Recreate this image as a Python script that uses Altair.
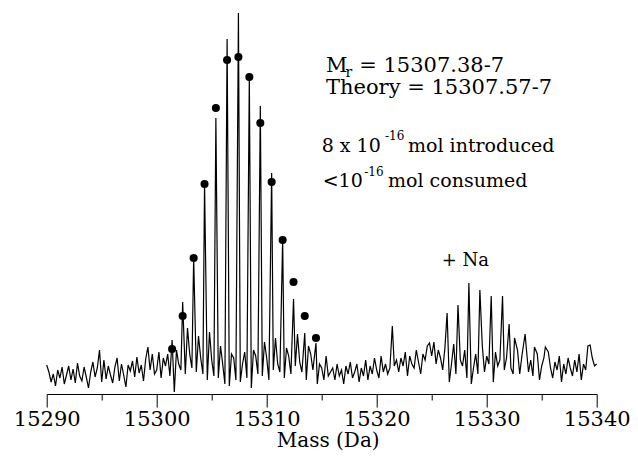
import altair as alt
import pandas as pd

# ---------------- data ----------------
mass_start = 15290.0
mass_step = 0.2
# baseline / noise trace, one value per 0.2 Da (15290.0 .. 15340.0)
baseline = [
    29, 22, 12, 20, 8, 24, 16, 27, 10, 19,
    28, 14, 25, 11, 31, 18, 13, 27, 17, 6,
    22, 32, 17, 26, 44, 12, 34, 15, 28, 19,
    11, 27, 36, 13, 30, 19, 7, 29, 23, 33,
    17, 37, 21, 29, 13, 35, 47, 24, 40, 20,
    24, 42, 16, 36, 28, 40, 18, 20, 2, 44,
    30, 24, 20, 20, 66, 40, 26, 20, 22, 58,
    36, 20, 20, 14, 62, 34, 18, 20, 16, 48,
    30, 10, 20, 8, 40, 36, 14, 20, 12, 30,
    42, 16, 20, 6, 44, 38, 20, 20, 18, 52,
    36, 14, 20, 24, 56, 30, 22, 20, 16, 46,
    38, 20, 20, 28, 60, 32, 22, 20, 14, 48,
    40, 24, 20, 10, 30, 26, 14, 38, 18, 22,
    26, 14, 30, 18, 24, 10, 28, 20, 32, 16,
    22, 30, 12, 26, 18, 34, 14, 28, 20, 36,
    24, 16, 38, 22, 30, 20, 26, 20, 28, 34,
    22, 36, 28, 42, 18, 38, 30, 26, 44, 32,
    20, 40, 34, 48, 20, 38, 52, 30, 44, 36,
    24, 46, 20, 12, 30, 50, 20, 8, 34, 28,
    44, 16, 20, 10, 26, 40, 20, 6, 48, 22,
    38, 30, 20, 12, 42, 28, 34, 20, 24, 36,
    20, 26, 20, 30, 44, 20, 38, 20, 46, 22,
    34, 18, 20, 40, 14, 28, 36, 22, 42, 26,
    16, 32, 24, 38, 12, 30, 20, 36, 26, 18,
    34, 22, 40, 14, 30, 24, 48, 18, 36, 28,
    30,
]

# main isotopic cluster
main_mass = [15301.40, 15302.36, 15303.36, 15304.35, 15305.38, 15306.40, 15307.43,
             15308.42, 15309.42, 15310.45, 15311.45, 15312.44, 15313.46, 15314.48]
main_height = [54, 92, 136, 210, 276, 355, 381, 317, 288, 221, 154, 95, 61, 51]
dot_height = [45, 78, 136, 210, 286, 334, 337, 317, 271, 212, 154, 112, 78, 56]

# sodium adduct cluster and other small peaks
na_mass = [15321.42, 15324.80, 15326.40, 15327.39, 15328.38, 15329.38, 15330.41,
           15331.44, 15332.04, 15332.53, 15333.49, 15334.34, 15335.33, 15339.40]
na_height = [68, 51, 81, 89, 111, 104, 98, 98, 70, 56, 60, 47, 47, 49]

axis_ticks = [15290, 15295, 15300, 15305, 15310, 15315, 15320, 15325, 15330, 15335, 15340]

# ---------------- build tables ----------------
grid = [round(mass_start + i * mass_step, 2) for i in range(len(baseline))]
peak_mass = main_mass + na_mass
peak_height = main_height + na_height
rows = [(m, v) for m, v in zip(grid, baseline)
        if min(abs(m - p) for p in peak_mass) > 0.1]
rows += list(zip(peak_mass, peak_height))
rows.sort()
line_df = pd.DataFrame(rows, columns=["mass", "intensity"])
dot_df = pd.DataFrame({"mass": main_mass, "intensity": dot_height})

FONT = "DejaVu Serif"
W, H = 550, 381

xscale = alt.Scale(domain=[15290, 15340], nice=False, zero=False)
yscale = alt.Scale(domain=[0, 381], nice=False, zero=True)

xaxis = alt.Axis(
    values=axis_ticks,
    format="d",
    labelExpr="datum.value % 10 === 0 ? datum.label : ''",
    tickSize={"condition": {"test": "datum.value % 10 === 0", "value": 13}, "value": 6},
    labelFont=FONT, labelFontSize=21, labelColor="black",
    labelPadding=1.5, labelFlush=False, labelOverlap=False,
    tickColor="black", tickWidth=1, domainColor="black", domainWidth=1,
    grid=False,
    title="Mass (Da)", titleFont=FONT, titleFontSize=20,
    titleFontWeight="normal", titleColor="black",
    titleBaseline="alphabetic", titleY=52.8, titleX=281,
)

line = alt.Chart(line_df).mark_line(color="black", strokeWidth=1.2).encode(
    x=alt.X("mass:Q", scale=xscale, axis=xaxis),
    y=alt.Y("intensity:Q", scale=yscale, axis=None),
)

dots = alt.Chart(dot_df).mark_point(filled=True, shape="circle", size=65,
                                    color="black", opacity=1).encode(
    x=alt.X("mass:Q", scale=xscale),
    y=alt.Y("intensity:Q", scale=yscale),
)

labels_text = ["M", "r", "= 15307.38-7", "Theory = 15307.57-7",
               "8 x 10", "-16", "mol introduced",
               "<10", "-16", "mol consumed", "+ Na"]


def txt(s, x, y, size):
    return alt.Chart(pd.DataFrame({"t": [s]})).mark_text(
        font=FONT, fontSize=size, align="left", baseline="alphabetic", color="black"
    ).encode(text="t:N", x=alt.value(x), y=alt.value(y))


texts = [
    txt(labels_text[0], 279.3, 58.7, 21),
    txt(labels_text[1], 298.8, 63.5, 14),
    txt(labels_text[2], 312.5, 58.7, 21),
    txt(labels_text[3], 279.3, 81, 21),
    txt(labels_text[4], 275, 138.7, 19),
    txt(labels_text[5], 338.3, 127, 12),
    txt(labels_text[6], 361.3, 138.7, 19),
    txt(labels_text[7], 276, 173.7, 19),
    txt(labels_text[8], 317.5, 163, 12),
    txt(labels_text[9], 341.3, 173.7, 19),
    txt(labels_text[10], 395, 253, 18),
]

chart = alt.layer(line, dots, *texts).properties(
    width=W, height=H, background="white",
    padding={"left": 38.7, "top": 5, "right": 33.3, "bottom": 57},
    autosize=alt.AutoSizeParams(type="none"),
).configure_view(stroke=None)

chart.save("out.html", embed_options={"renderer": "svg", "actions": False})
